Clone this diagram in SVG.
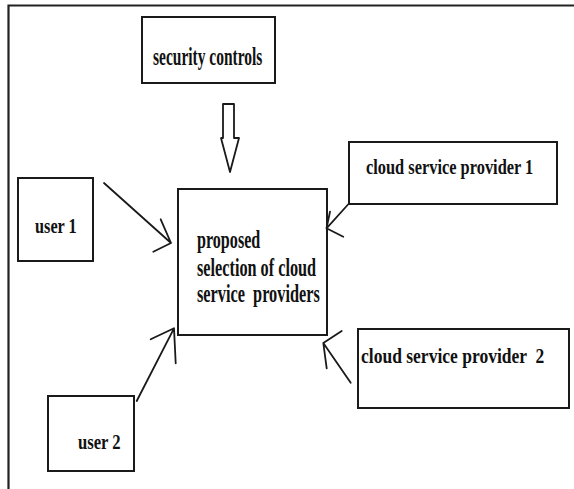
<svg xmlns="http://www.w3.org/2000/svg" width="574" height="489" viewBox="0 0 574 489">
<style>
.box{fill:#fff;stroke:#1a1a1a;stroke-width:2}
.ln{fill:none;stroke:#1a1a1a;stroke-width:1.8;stroke-linecap:round;stroke-linejoin:round}
.t{font-family:"Liberation Serif","Times New Roman",serif;font-weight:bold;fill:#111;white-space:pre}
</style>
<rect width="574" height="489" fill="#fff"/>
<g id="frame">
<path d="M8.5 489 V5.5 H574" fill="none" stroke="#222" stroke-width="2.2"/>
</g>
<g id="security-controls">
<rect class="box" x="142" y="17" width="133" height="66"/>
<text class="t" transform="translate(153 65) scale(0.62 1)" font-size="25">security controls</text>
</g>
<g id="user-1">
<rect class="box" x="18" y="178" width="75" height="83"/>
<text class="t" transform="translate(35 233) scale(0.74 1)" font-size="22">user 1</text>
</g>
<g id="proposed">
<rect class="box" x="178" y="189" width="149" height="146"/>
<text class="t" transform="translate(197 248) scale(0.645 1)" font-size="25">proposed</text>
<text class="t" transform="translate(197 276) scale(0.65 1)" font-size="25">selection of cloud</text>
<text class="t" transform="translate(197 302) scale(0.652 1)" font-size="25">service  providers</text>
</g>
<g id="cloud-service-provider-1">
<rect class="box" x="349" y="142" width="208" height="62"/>
<text class="t" transform="translate(366 174) scale(0.82 1)" font-size="20">cloud service provider 1</text>
</g>
<g id="cloud-service-provider-2">
<rect class="box" x="358" y="329" width="211" height="79"/>
<text class="t" transform="translate(361 363) scale(0.876 1)" font-size="20">cloud service provider  2</text>
</g>
<g id="user-2">
<rect class="box" x="48" y="396" width="86" height="75"/>
<text class="t" transform="translate(78 449) scale(0.757 1)" font-size="22">user 2</text>
</g>
<g id="connectors">
<polygon class="ln" points="223,104 234,104 234,138 239,138 230,172 221,138 223,138" fill="#fff"/>
<path class="ln" d="M104 183 L171 243 M160.7 219.3 L171 243 L153.3 251.7"/>
<path class="ln" d="M348.5 204 L326.5 228.3 M330 211.7 L326.5 228.3 L343.3 236.7"/>
<path class="ln" d="M136.7 401 L174 328.3 M150.7 339.3 L174 328.3 L175.7 363.3"/>
<path class="ln" d="M350.7 382.7 L323.3 343 M341.7 331 L323.3 343 L326.7 368.3"/>
</g>
</svg>
